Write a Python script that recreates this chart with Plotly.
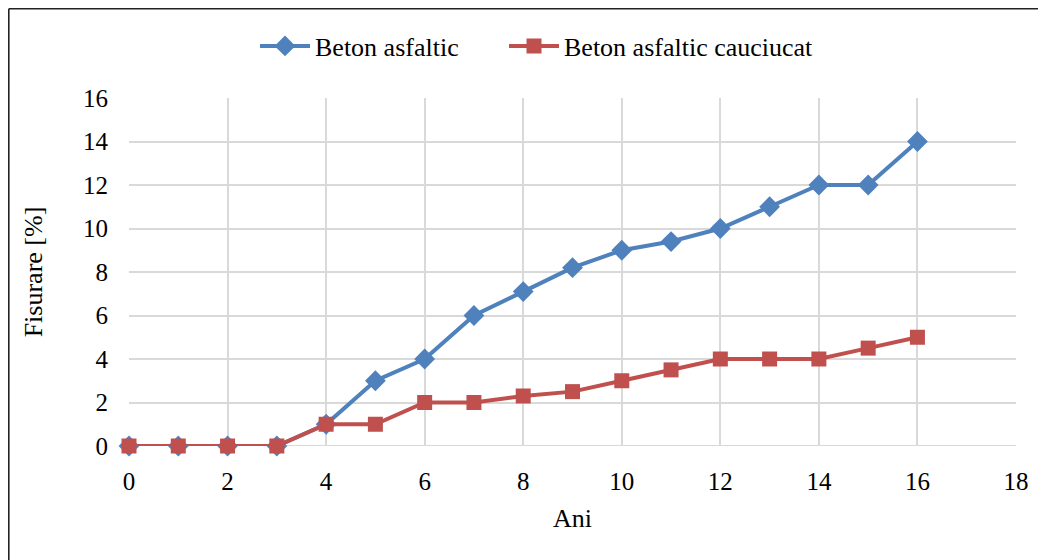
import plotly.graph_objects as go

ani = list(range(0, 17))
beton_asfaltic = [0, 0, 0, 0, 1, 3, 4, 6, 7.1, 8.2, 9, 9.4, 10, 11, 12, 12, 14]
beton_cauciucat = [0, 0, 0, 0, 1, 1, 2, 2, 2.3, 2.5, 3, 3.5, 4, 4, 4, 4.5, 5]

FONT = "Liberation Serif, Times New Roman, serif"
# page body has an 8px margin; figure placed at (8, 8)
W, H = 1038, 552
L, T = 121, 90
pw, ph = 887, 348
R = W - L - pw
B = H - T - ph

fig = go.Figure()
fig.add_trace(go.Scatter(
    x=ani, y=beton_asfaltic, mode="lines+markers", name="Beton asfaltic",
    line=dict(color="#4F81BD", width=4),
    marker=dict(symbol="diamond", size=16, color="#4F81BD"),
    cliponaxis=False, legend="legend",
))
fig.add_trace(go.Scatter(
    x=ani, y=beton_cauciucat, mode="lines+markers", name="Beton asfaltic cauciucat",
    line=dict(color="#C0504D", width=4),
    marker=dict(symbol="square", size=15, color="#C0504D"),
    cliponaxis=False, legend="legend2",
))

bx0 = (0.8 - L) / pw
by1 = 1 + (T - 0.8) / ph
fig.add_shape(type="line", xref="paper", yref="paper", x0=bx0, x1=bx0, y0=-1, y1=by1,
              line=dict(color="#222222", width=1.6))
fig.add_shape(type="line", xref="paper", yref="paper", x0=bx0, x1=2, y0=by1, y1=by1,
              line=dict(color="#222222", width=1.6))

leg_common = dict(orientation="h", xanchor="left", y=1 + (98 - 46) / ph, yanchor="middle",
                  font=dict(family=FONT, size=26), itemwidth=50, bgcolor="rgba(0,0,0,0)")

fig.update_layout(
    width=W, height=H,
    margin=dict(l=L, r=R, t=T, b=B, autoexpand=False),
    paper_bgcolor="white", plot_bgcolor="white",
    font=dict(family=FONT, size=25, color="#000000"),
    showlegend=True,
    legend=dict(x=(255 - 129) / pw, **leg_common),
    legend2=dict(x=(504 - 129) / pw, **leg_common),
    xaxis=dict(range=[0, 18], dtick=2, tick0=0, showgrid=True, gridcolor="#D9D9D9", gridwidth=2,
               zeroline=False, showline=False, ticks="", ticklabelstandoff=18,
               title=dict(text="Ani", font=dict(family=FONT, size=26), standoff=14)),
    yaxis=dict(range=[0, 16], dtick=2, tick0=0, showgrid=True, gridcolor="#D9D9D9", gridwidth=2,
               zeroline=False, showline=False, ticks="", ticklabelstandoff=20,
               title=dict(text="Fisurare [%]", font=dict(family=FONT, size=26), standoff=32)),
)
fig.add_hline(y=0, line=dict(color="#D9D9D9", width=2), layer="below")

fig.write_html("out.html")
